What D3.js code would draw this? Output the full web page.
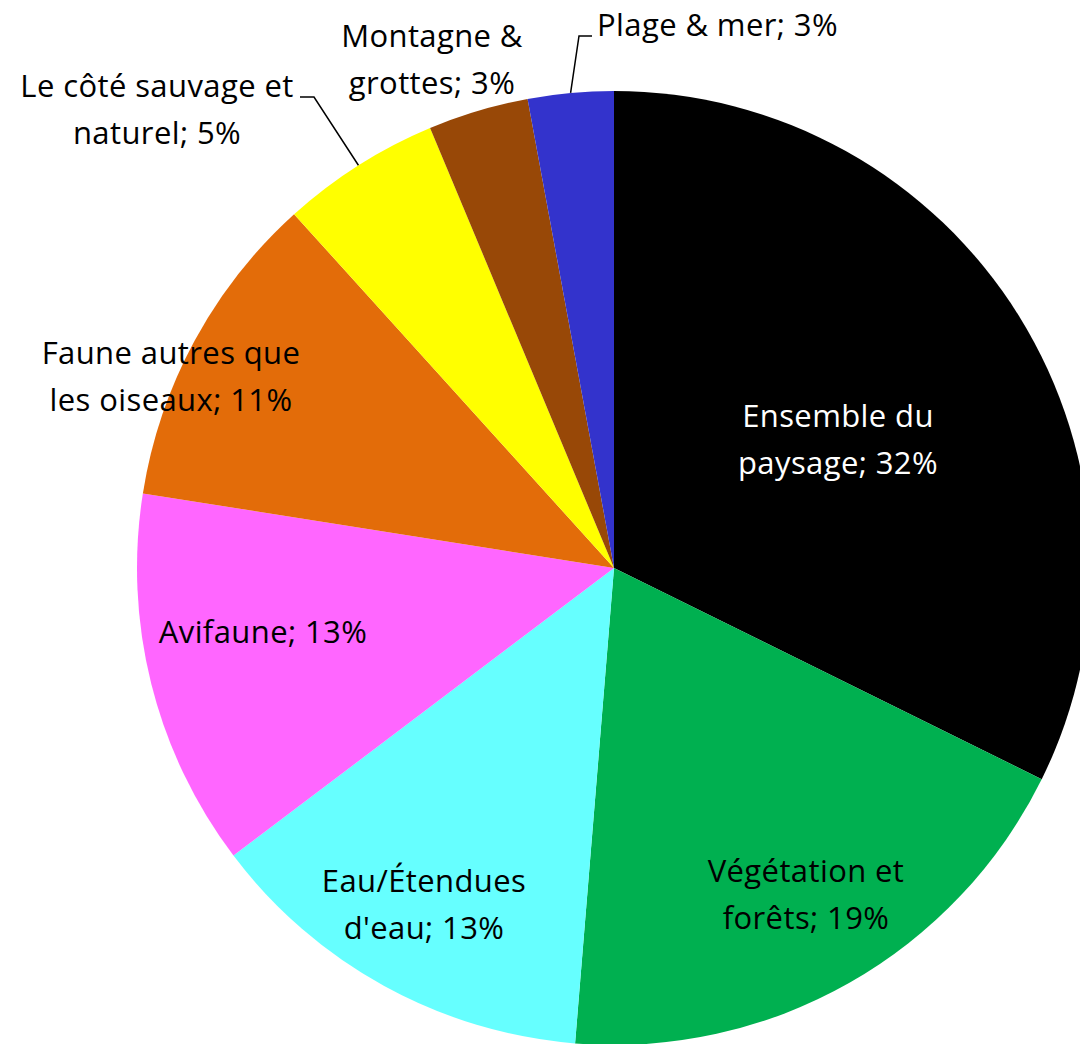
<!DOCTYPE html>
<html>
<head>
<meta charset="utf-8">
<script src="https://d3js.org/d3.v7.min.js"></script>
<style>
  body { margin: 0; background: #fff; }
  text { font-family: "Open Sans", "Liberation Sans", sans-serif; font-size: 31px; letter-spacing: 0.4px; }
</style>
</head>
<body>
<svg id="chart" width="1080" height="1044"></svg>
<script>
// slices, clockwise from 12 o'clock
const categories = [
  "Ensemble du paysage",
  "Végétation et forêts",
  "Eau/Étendues d'eau",
  "Avifaune",
  "Faune autres que les oiseaux",
  "Le côté sauvage et naturel",
  "Montagne & grottes",
  "Plage & mer"
];
const values = [32.3, 19.0, 13.4, 12.8, 10.8, 5.4, 3.4, 2.9];
const colors = ["#000000", "#00B050", "#66FFFF", "#FF66FF", "#E36C09", "#FFFF00", "#984807", "#3333CC"];
// how many words go on the first line of each label
const firstLineWords = [2, 2, 1, 2, 3, 4, 2, 4];

// label placement: x, baseline of first line, anchor
const labelLayout = [
  {x: 838, y: 427, anchor: "middle", fill: "#fff"},
  {x: 806, y: 882, anchor: "middle", fill: "#000"},
  {x: 424, y: 892, anchor: "middle", fill: "#000"},
  {x: 263, y: 643, anchor: "middle", fill: "#000"},
  {x: 171, y: 364, anchor: "middle", fill: "#000"},
  {x: 157, y: 97, anchor: "middle", fill: "#000"},
  {x: 432, y: 47, anchor: "middle", fill: "#000"},
  {x: 597, y: 36, anchor: "start", fill: "#000"}
];
const lineHeight = 46.5;
// leader lines for the outside labels: elbow then end
const leaders = {
  5: [[314, 97], [300, 97]],
  7: [[579, 36], [592, 36]]
};

const cx = 614, cy = 568, radius = 477;
const svg = d3.select("#chart");
const g = svg.append("g").attr("transform", `translate(${cx},${cy})`);

const pie = d3.pie().sort(null).value(d => d);
const arc = d3.arc().innerRadius(0).outerRadius(radius);
const arcs = pie(values);

g.selectAll("path.slice")
  .data(arcs)
  .enter()
  .append("path")
  .attr("class", "slice")
  .attr("d", arc)
  .attr("fill", (d, i) => colors[i]);

// leader lines
Object.keys(leaders).forEach(k => {
  const a = arcs[k];
  const mid = (a.startAngle + a.endAngle) / 2;
  const start = [cx + radius * Math.sin(mid), cy - radius * Math.cos(mid)];
  const pts = [start].concat(leaders[k]);
  svg.append("path")
    .attr("d", d3.line()(pts))
    .attr("fill", "none")
    .attr("stroke", "#000")
    .attr("stroke-width", 1.5);
});

// labels
arcs.forEach((a, i) => {
  const pct = Math.round(a.data) + "%";
  const words = (categories[i] + "; " + pct).split(" ");
  const n = firstLineWords[i];
  const lines = [words.slice(0, n).join(" "), words.slice(n).join(" ")].filter(s => s.length);
  const L = labelLayout[i];
  const t = svg.append("text")
    .attr("text-anchor", L.anchor)
    .attr("fill", L.fill);
  lines.forEach((s, j) => {
    t.append("tspan")
      .attr("x", L.x)
      .attr("y", L.y + j * lineHeight)
      .text(s);
  });
});
</script>
</body>
</html>
